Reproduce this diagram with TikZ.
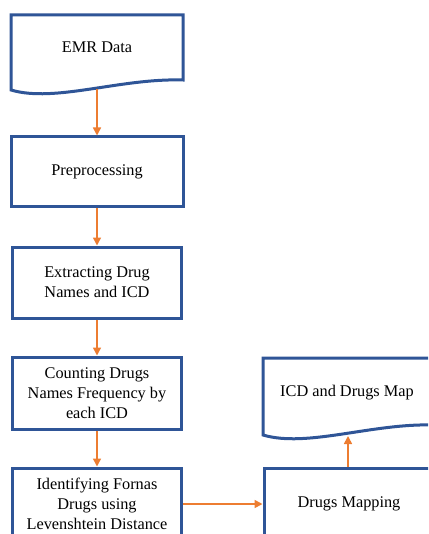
\documentclass[tikz,border=0pt]{standalone}
\usepackage{fontspec}
\setmainfont{Liberation Serif}
\usetikzlibrary{arrows.meta}
\definecolor{boxblue}{HTML}{2F5597}
\definecolor{arrorange}{HTML}{ED7D31}
\tikzset{
  stepbox/.style={draw=boxblue, line width=3pt, fill=white, minimum width=170pt, minimum height=71pt, align=center, inner sep=2pt, font=\fontsize{16.3}{20}\selectfont},
  doctext/.style={align=center, inner sep=0pt, font=\fontsize{16.3}{20}\selectfont},
  docshape/.style={draw=boxblue, line width=3pt, fill=white, line join=miter},
  flow/.style={draw=arrorange, line width=1.6pt, -{Triangle[length=8pt,width=8pt]}}
}
\begin{document}
\begin{tikzpicture}[x=1pt,y=-1pt]
\useasboundingbox (0,0) rectangle (428,534);
\clip (0,0) rectangle (428,534);
% EMR Data document
\draw[docshape] (11,15) -- (183,15) -- (183,80) .. controls (120,78) and (55,103) .. (11,90) -- cycle;
\node[doctext] (emr) at (97,47) {EMR Data};
\coordinate (emrb) at (97,89);
% boxes
\node[stepbox, minimum width=172pt, minimum height=70pt] (pre) at (97,172) {Preprocessing};
\node[stepbox, minimum width=169pt] (ext) at (97,282.5) {Extracting Drug\\Names and ICD};
\node[stepbox, minimum width=169pt, minimum height=72pt] (cnt) at (97,393) {Counting Drugs\\Names Frequency by\\each ICD};
\node[stepbox, minimum width=169pt, minimum height=72pt] (idf) at (97,504) {Identifying Fornas\\Drugs using\\Levenshtein Distance};
\node[stepbox, minimum width=170pt, minimum height=72pt] (map) at (349,504) {Drugs Mapping};
% ICD and Drugs Map document
\draw[docshape] (263,358) -- (434,358) -- (434,425) .. controls (372,423) and (307,448) .. (263,435) -- cycle;
\node[doctext] (icd) at (347,393) {ICD and Drugs Map};
\coordinate (icdb) at (348,436);
% connectors
\draw[flow] (emrb) -- (pre.north);
\draw[flow] (pre.south) -- (ext.north);
\draw[flow] (ext.south) -- (cnt.north);
\draw[flow] (cnt.south) -- (idf.north);
\draw[flow] (idf.east) -- (map.west);
\draw[flow] (map.north -| icdb) -- (icdb);
\end{tikzpicture}
\end{document}
